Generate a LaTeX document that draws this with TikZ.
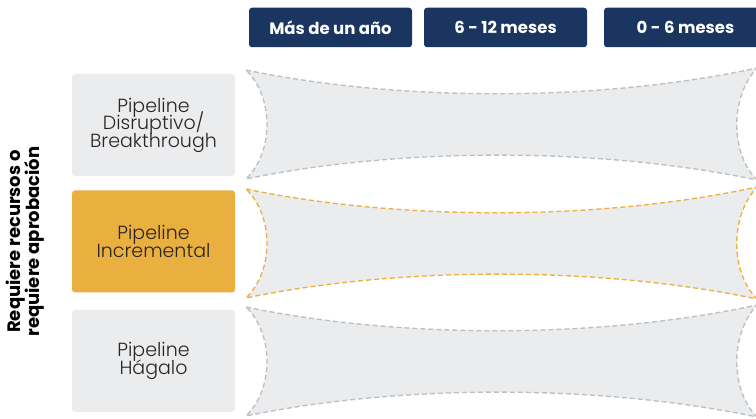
\documentclass[tikz,border=0pt]{standalone}
\usepackage{fontspec}
\setmainfont{Poppins}
\newfontfamily\plight{Poppins Light}
\definecolor{navy}{HTML}{1A3560}
\definecolor{boxgrey}{HTML}{EBECEE}
\definecolor{bandgrey}{HTML}{EBECEE}
\definecolor{dashgrey}{HTML}{BEBFC1}
\definecolor{gold}{HTML}{E9B040}
\definecolor{golddash}{HTML}{EDB143}
\definecolor{txt}{HTML}{2A2422}
\tikzset{
  hdr/.style={fill=navy, rounded corners=3pt, minimum width=163pt, minimum height=39.5pt,
    inner sep=0pt, text=white, font=\fontsize{16.5}{18}\selectfont\bfseries},
  lbox/.style={fill=boxgrey, rounded corners=3pt, minimum width=163pt, minimum height=102pt,
    inner sep=0pt, text=txt, align=center, font=\plight\fontsize{19}{17.5}\selectfont},
  band/.style={fill=bandgrey, line width=1.35pt, dash pattern=on 5pt off 3pt},
}
\newcommand\bandshape[2]{%
  \path[band,draw=#2] (246,#1) .. controls (400,#1+32) and (600,#1+32) .. (757,#1-2)
    .. controls (730,#1+27) and (730,#1+83) .. (757,#1+110)
    .. controls (600,#1+77) and (400,#1+77) .. (246,#1+109)
    .. controls (274,#1+82) and (274,#1+27) .. cycle;}
\begin{document}
\lineskiplimit=-100pt
\begin{tikzpicture}[x=1pt,y=-1pt]
\useasboundingbox (0,0) rectangle (756,419);
\bandshape{70}{dashgrey}
\bandshape{189}{golddash}
\bandshape{307}{dashgrey}
\node[hdr] (h1) at (330.5,27.5) {Más de un año};
\node[hdr] (h2) at (505.5,27.5) {6 - 12 meses};
\node[hdr] (h3) at (685.5,27.5) {0 - 6 meses};
\node[lbox] (p1) at (153.5,125) {Pipeline\\Disruptivo/\\Breakthrough};
\node[lbox, fill=gold] (p2) at (153.5,241.5) {Pipeline\\Incremental};
\node[lbox] (p3) at (153.5,361) {Pipeline\\Hágalo};
\node[rotate=90, align=center, font=\fontsize{18}{19.5}\selectfont\bfseries, text=black] (side) at (25,241.5) {Requiere recursos o\\requiere aprobación};
\end{tikzpicture}
\end{document}
